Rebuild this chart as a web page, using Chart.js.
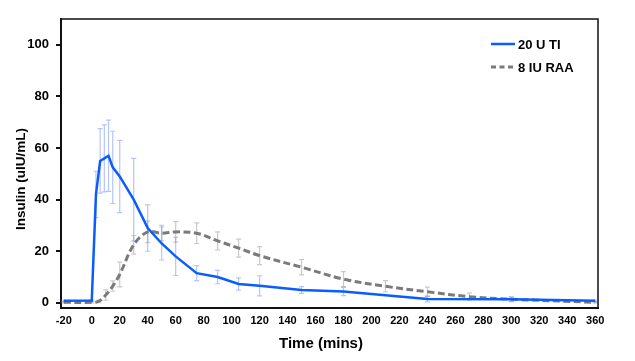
<!DOCTYPE html>
<html>
<head>
<meta charset="utf-8">
<script src="https://cdn.jsdelivr.net/npm/chart.js@4"></script>
<style>
  html, body { margin: 0; padding: 0; background: #fff; }
  #wrap { width: 635px; height: 361px; }
</style>
</head>
<body>
<div id="wrap"><canvas id="insulinChart" width="635" height="361"></canvas></div>
<script>
// data
const blueTimes = [-20, 0, 3, 6, 9, 12, 15, 20, 30, 40, 50, 60, 75, 90, 105, 120, 150, 180, 240, 300, 360];
const blueMean  = [0.8, 0.9, 42, 55, 56, 57, 52.5, 49, 40, 29, 23, 18, 11.5, 10, 7.3, 6.6, 5, 4.4, 1.5, 1.4, 0.8];
const blueErr   = [0.3, 0.3, 9, 12.5, 13, 13.8, 14, 14, 16, 9, 6.4, 7.4, 2.9, 2.6, 2.4, 3.9, 1.3, 1.6, 1.1, 0.8, 0.3];

const grayTimes = [-20, 0, 5, 10, 15, 20, 30, 40, 50, 60, 75, 90, 105, 120, 150, 180, 210, 240, 270, 300, 360];
const grayMean  = [0.2, 0.2, 0.6, 3, 6.5, 11, 22.5, 27.5, 27, 27.5, 27, 24, 21.2, 18.3, 13.8, 9.2, 6.4, 4.3, 2.4, 1.4, 0.2];
const grayErr   = [0.2, 0.2, 0.5, 2, 2, 4.8, 3.6, 4.2, 3, 4, 4, 3.5, 3.5, 3.5, 3, 2.9, 2.2, 1.8, 1.4, 0.9, 0.2];

const xTicks = [-20, 0, 20, 40, 60, 80, 100, 120, 140, 160, 180, 200, 220, 240, 260, 280, 300, 320, 340, 360];
const yTicks = [0, 20, 40, 60, 80, 100];

const FONT = "'Liberation Sans', Arial, sans-serif";

const toPoints = (xs, ys) => xs.map((x, i) => ({ x: x, y: ys[i] }));

// error bars, drawn under the lines
const errorBars = {
  id: 'errorBars',
  beforeDatasetsDraw(chart) {
    const { ctx, scales: { x, y } } = chart;
    const sets = [
      { t: blueTimes, m: blueMean, e: blueErr, color: 'rgba(120,150,245,0.55)' },
      { t: grayTimes, m: grayMean, e: grayErr, color: 'rgba(150,150,150,0.5)' }
    ];
    ctx.save();
    ctx.lineWidth = 1.2;
    sets.forEach(s => {
      ctx.strokeStyle = s.color;
      s.t.forEach((t, i) => {
        const px = x.getPixelForValue(t);
        const top = y.getPixelForValue(s.m[i] + s.e[i]);
        const bot = y.getPixelForValue(s.m[i] - s.e[i]);
        ctx.beginPath();
        ctx.moveTo(px, top); ctx.lineTo(px, bot);
        ctx.moveTo(px - 2.5, top); ctx.lineTo(px + 2.5, top);
        ctx.moveTo(px - 2.5, bot); ctx.lineTo(px + 2.5, bot);
        ctx.stroke();
      });
    });
    ctx.restore();
  }
};

// frame, legend and axis titles
const decor = {
  id: 'decor',
  afterDraw(chart) {
    const { ctx, chartArea: a } = chart;
    ctx.save();
    ctx.strokeStyle = '#111';
    ctx.lineWidth = 1.5;
    ctx.beginPath();
    ctx.moveTo(a.left, a.top);
    ctx.lineTo(a.right, a.top);
    ctx.lineTo(a.right, a.bottom);
    ctx.stroke();

    // legend
    const rows = [44, 67];
    chart.data.datasets.forEach((ds, i) => {
      ctx.strokeStyle = ds.borderColor;
      ctx.lineWidth = ds.borderWidth;
      ctx.setLineDash(i === 1 ? [5, 3.5] : []);
      ctx.beginPath();
      ctx.moveTo(491, rows[i]);
      ctx.lineTo(515, rows[i]);
      ctx.stroke();
      ctx.setLineDash([]);
      ctx.fillStyle = '#000';
      ctx.font = 'bold 13px ' + FONT;
      ctx.textAlign = 'left';
      ctx.textBaseline = 'middle';
      ctx.fillText(ds.label, 518, rows[i] + 1);
    });

    // axis titles
    ctx.fillStyle = '#000';
    ctx.font = 'bold 15px ' + FONT;
    ctx.textAlign = 'center';
    ctx.textBaseline = 'middle';
    ctx.fillText('Time (mins)', 321, 344);

    ctx.translate(21, 179);
    ctx.rotate(-Math.PI / 2);
    ctx.font = 'bold 13.5px ' + FONT;
    ctx.fillText('Insulin (uIU/mL)', 0, 0);
    ctx.restore();
  }
};

new Chart(document.getElementById('insulinChart'), {
  type: 'line',
  data: {
    datasets: [
      {
        label: '20 U TI',
        data: toPoints(blueTimes, blueMean),
        borderColor: '#0a5cff',
        borderWidth: 2.5,
        pointRadius: 0,
        tension: 0,
        fill: false
      },
      {
        label: '8 IU RAA',
        data: toPoints(grayTimes, grayMean),
        borderColor: '#7a7a7a',
        borderWidth: 3,
        borderDash: [7, 3.5],
        pointRadius: 0,
        tension: 0.35,
        fill: false
      }
    ]
  },
  options: {
    responsive: false,
    animation: false,
    devicePixelRatio: 1,
    layout: { padding: { top: 19, right: 37, left: 0, bottom: 0 } },
    plugins: {
      legend: { display: false },
      tooltip: { enabled: false }
    },
    scales: {
      x: {
        type: 'linear',
        min: -22,
        max: 362,
        afterBuildTicks: s => { s.ticks = xTicks.map(v => ({ value: v })); },
        afterFit: s => { s.height = 53; },
        grid: { display: false, drawTicks: false },
        border: { display: true, color: '#111', width: 2 },
        ticks: {
          padding: 6,
          maxRotation: 0,
          autoSkip: false,
          color: '#000',
          font: { family: FONT, size: 11, weight: 'bold' }
        }
      },
      y: {
        min: -2,
        max: 110,
        afterBuildTicks: s => { s.ticks = yTicks.map(v => ({ value: v })); },
        afterFit: s => { s.width = 61; },
        grid: { drawOnChartArea: false, drawTicks: true, tickLength: 5, color: '#111', lineWidth: 2 },
        border: { display: true, color: '#111', width: 2 },
        ticks: {
          padding: 7,
          color: '#000',
          font: { family: FONT, size: 13, weight: 'bold' }
        }
      }
    }
  },
  plugins: [errorBars, decor]
});
</script>
</body>
</html>
